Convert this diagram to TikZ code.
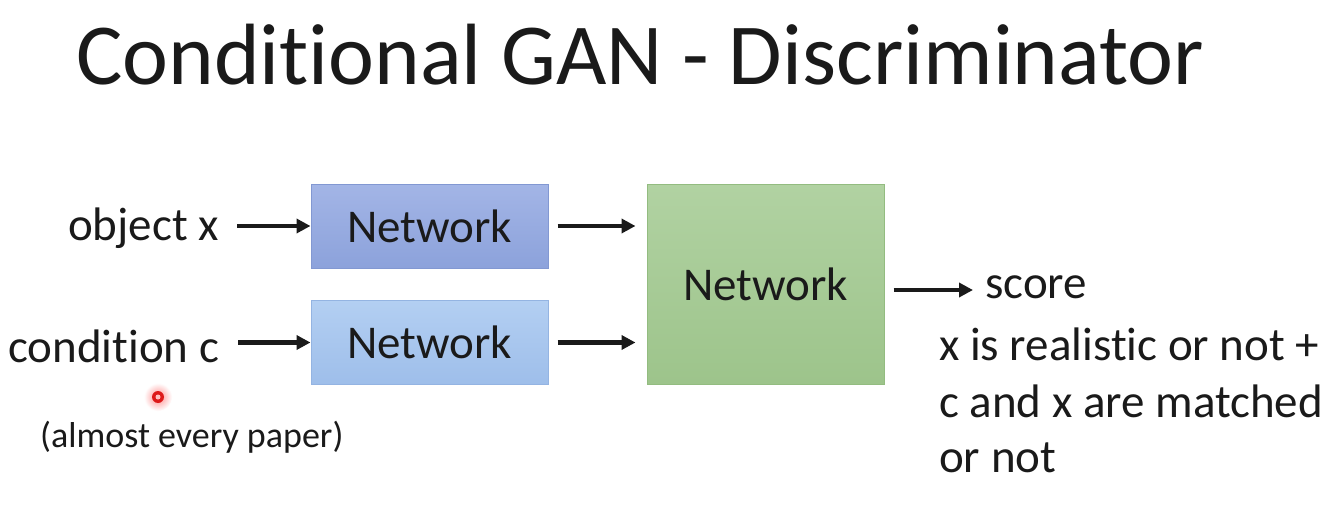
\documentclass[tikz,border=0pt]{standalone}
\usepackage{fontspec}
\setmainfont{Carlito}[Ligatures=NoCommon]
\usetikzlibrary{arrows.meta}
% keeps "t" and "i" as separate glyphs
\newcommand{\tisep}{\kern0pt}
\definecolor{blueA1}{HTML}{A3B5E6}
\definecolor{blueA2}{HTML}{8CA2DB}
\definecolor{blueAd}{HTML}{8298D2}
\definecolor{blueB1}{HTML}{B3CFF2}
\definecolor{blueB2}{HTML}{9EBEEA}
\definecolor{blueBd}{HTML}{94B4E2}
\definecolor{green1}{HTML}{B1D2A2}
\definecolor{green2}{HTML}{9DC48B}
\definecolor{greend}{HTML}{93BC80}
\definecolor{ink}{HTML}{1A1A1A}
\tikzset{
  body/.style={font=\fontsize{47}{56}\selectfont, text=ink, inner sep=0pt, anchor=base west},
  netbox/.style={minimum width=237pt, minimum height=84pt, inner sep=0pt,
    font=\fontsize{47}{56}\selectfont, text=ink, line width=1pt},
  arr/.style={line width=4.6pt, draw=ink, -{Triangle[length=14pt,width=14pt]}},
}
\begin{document}
\begin{tikzpicture}[x=1pt,y=-1pt]
  \useasboundingbox[fill=white] (0,0) rectangle (1339,516);

  % title
  \node[inner sep=0pt, anchor=base west, text=ink, font=\fontsize{87}{100}\selectfont]
    (title) at (76,85) {Condit\tisep ional GAN - Discriminator};

  % networks
  \node[netbox, draw=blueAd, top color=blueA1, bottom color=blueA2]
    (b1) at (429.5,226) {Network};
  \node[netbox, draw=blueBd, top color=blueB1, bottom color=blueB2]
    (b2) at (429.5,342.5) {Network};
  \node[netbox, minimum height=200pt, draw=greend, top color=green1, bottom color=green2]
    (g) at (765.5,284) {Network};

  % inputs
  \node[body] (obj) at (68,240) {object x};
  \node[body] (cond) at (8,362) {condit\tisep ion c};
  \node[inner sep=0pt, anchor=base west, text=ink, font=\fontsize{36}{42}\selectfont]
    (note) at (40,447) {(almost every paper)};

  % output
  \node[body] (score) at (985,298) {score};
  \node[body] (r1) at (939,360) {x is realist\tisep ic or not +};
  \node[body] (r2) at (939,417) {c and x are matched};
  \node[body] (r3) at (939,472) {or not};
  \coordinate (scoreend) at (973,290);

  % connectors
  \draw[arr, shorten <=18pt] (b1.west -| obj.east) -- (b1.west);
  \draw[arr, shorten <=19pt] (b2.west -| cond.east) -- (b2.west);
  \draw[arr, shorten <=9pt, shorten >=11pt] (b1.east) -- (b1.east -| g.west);
  \draw[arr, shorten <=9pt, shorten >=11pt] (b2.east) -- (b2.east -| g.west);
  \draw[arr, shorten <=9pt] (g.east |- scoreend) -- (scoreend);

  % pointer spot
  \shade[inner color=red!45, outer color=white] (158,397) circle (14);
  \fill[red!85!black!90] (158,397) circle (6);
  \fill[red!25!white] (158,397) circle (2.5);
\end{tikzpicture}
\end{document}
